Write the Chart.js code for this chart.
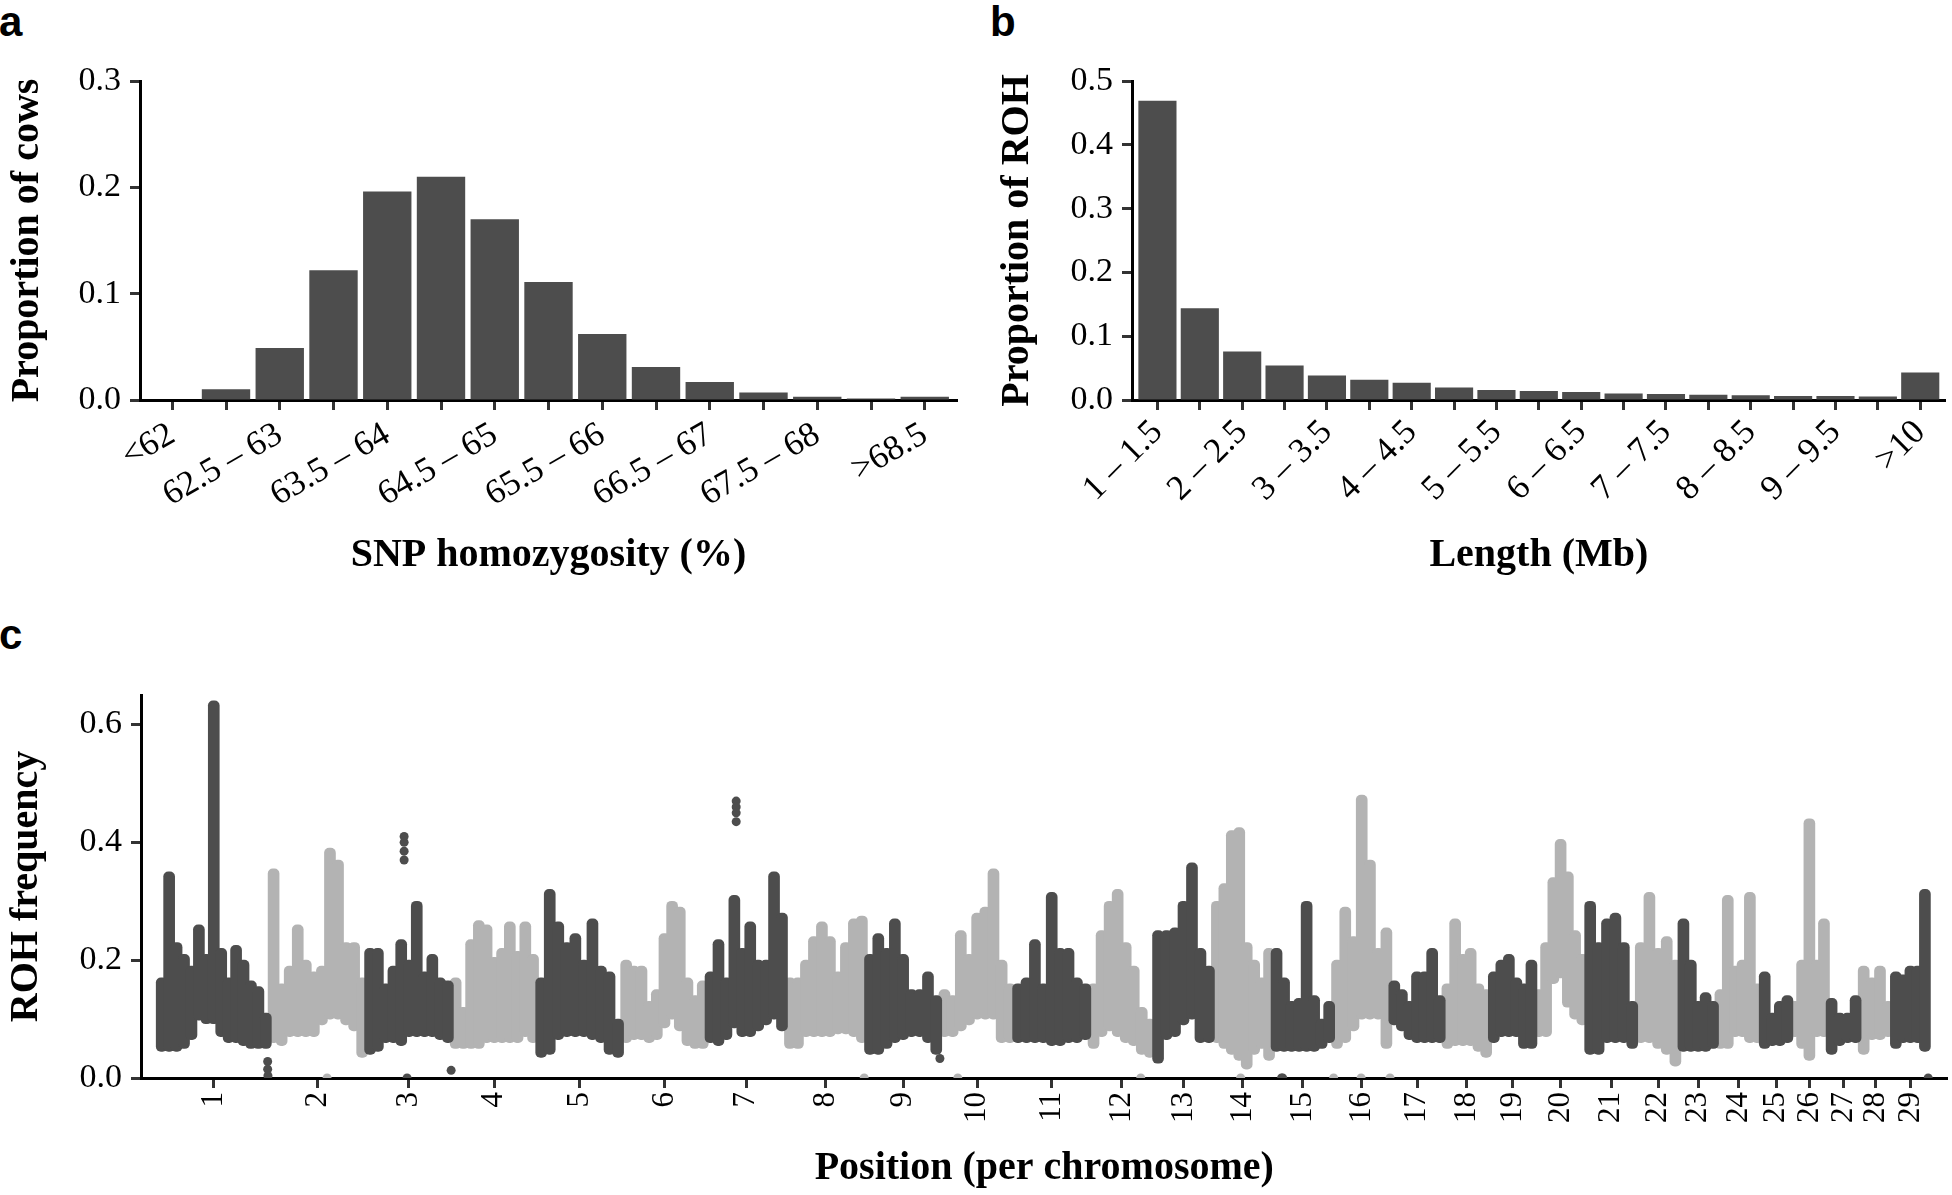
<!DOCTYPE html>
<html>
<head>
<meta charset="utf-8">
<script src="https://cdn.jsdelivr.net/npm/chart.js@4.4.1/dist/chart.umd.min.js"></script>
<style>
  html, body { margin: 0; padding: 0; background: #fff; }
  #page { position: relative; width: 1952px; height: 1195px; overflow: hidden; }
  canvas { position: absolute; }
  .tag { position: absolute; font: bold 42px "Liberation Sans", Arial, sans-serif; line-height: 1; color: #000; }
</style>
</head>
<body>
<div id="page">
  <div class="tag" style="left:-1px; top:1px;">a</div>
  <div class="tag" style="left:990px; top:1px;">b</div>
  <div class="tag" style="left:-1px; top:614px;">c</div>
  <canvas id="chartA" width="975" height="600" style="left:0; top:0;"></canvas>
  <canvas id="chartB" width="977" height="600" style="left:975px; top:0;"></canvas>
  <canvas id="chartC" width="1952" height="595" style="left:0; top:600px;"></canvas>
</div>
<script>
// panel a: SNP homozygosity classes
const homozygosityBins = ['<62', '62 – 62.5', '62.5 – 63', '63 – 63.5', '63.5 – 64', '64 – 64.5', '64.5 – 65',
  '65 – 65.5', '65.5 – 66', '66 – 66.5', '66.5 – 67', '67 – 67.5', '67.5 – 68', '68 – 68.5', '>68.5'];
const propCows = [0, 0.010, 0.049, 0.122, 0.196, 0.210, 0.170, 0.111, 0.062, 0.031, 0.017, 0.007, 0.003, 0.0015, 0.003];

// panel b: ROH length classes (Mb)
const lengthBins = ['1 – 1.5', '1.5 – 2', '2 – 2.5', '2.5 – 3', '3 – 3.5', '3.5 – 4', '4 – 4.5', '4.5 – 5', '5 – 5.5',
  '5.5 – 6', '6 – 6.5', '6.5 – 7', '7 – 7.5', '7.5 – 8', '8 – 8.5', '8.5 – 9', '9 – 9.5', '9.5 – 10', '>10'];
const propRoh = [0.469, 0.144, 0.076, 0.054, 0.0385, 0.0316, 0.027, 0.0195, 0.0158, 0.0142, 0.0126, 0.010,
  0.0095, 0.0084, 0.0074, 0.0063, 0.0063, 0.0053, 0.043];

// panel c: chromosomes, lengths in Mb
const chrNames = ['1','2','3','4','5','6','7','8','9','10','11','12','13','14','15','16','17','18','19','20',
  '21','22','23','24','25','26','27','28','29'];
const chrLengthMb = [158.3, 137.1, 121.4, 120.8, 121.2, 119.5, 112.6, 113.4, 105.7, 104.3, 107.3, 91.2, 84.2,
  84.6, 85.3, 81.7, 75.2, 66.0, 64.1, 72.0, 71.6, 61.4, 52.5, 62.7, 42.9, 51.7, 45.4, 46.3, 51.5];

// ROH frequency range [low, high] in consecutive windows along each chromosome
const rohBins = [
  [[0.045,0.17],[0.045,0.35],[0.045,0.23],[0.05,0.21],[0.065,0.19],[0.098,0.26],[0.092,0.21],[0.092,0.64],
   [0.07,0.22],[0.06,0.17],[0.06,0.225],[0.055,0.2],[0.05,0.165],[0.05,0.155],[0.05,0.11]],
  [[0.06,0.355],[0.055,0.16],[0.07,0.19],[0.07,0.26],[0.07,0.2],[0.07,0.18],[0.09,0.19],[0.1,0.39],
   [0.1,0.37],[0.09,0.23],[0.08,0.23],[0.035,0.17]],
  [[0.04,0.22],[0.045,0.22],[0.06,0.16],[0.06,0.19],[0.055,0.235],[0.07,0.2],[0.07,0.3],[0.07,0.18],
   [0.07,0.21],[0.065,0.17],[0.06,0.165]],
  [[0.05,0.17],[0.05,0.12],[0.05,0.235],[0.05,0.267],[0.06,0.26],[0.06,0.205],[0.06,0.22],[0.06,0.265],
   [0.06,0.215],[0.07,0.265],[0.06,0.21]],
  [[0.035,0.17],[0.04,0.32],[0.065,0.265],[0.07,0.23],[0.07,0.245],[0.07,0.2],[0.065,0.27],[0.06,0.19],
   [0.04,0.18],[0.035,0.1]],
  [[0.06,0.2],[0.065,0.19],[0.065,0.19],[0.06,0.13],[0.065,0.15],[0.085,0.245],[0.1,0.3],[0.08,0.29],
   [0.055,0.17],[0.05,0.14],[0.05,0.165]],
  [[0.06,0.18],[0.055,0.235],[0.065,0.17],[0.085,0.31],[0.07,0.22],[0.07,0.265],[0.08,0.2],[0.09,0.2],
   [0.1,0.35],[0.08,0.28]],
  [[0.05,0.17],[0.05,0.17],[0.07,0.2],[0.07,0.24],[0.07,0.265],[0.07,0.24],[0.075,0.18],[0.075,0.23],
   [0.07,0.27],[0.06,0.275]],
  [[0.04,0.21],[0.04,0.245],[0.05,0.22],[0.06,0.27],[0.065,0.21],[0.07,0.15],[0.07,0.15],[0.06,0.18],[0.04,0.14]],
  [[0.07,0.15],[0.07,0.14],[0.08,0.25],[0.09,0.21],[0.1,0.28],[0.1,0.29],[0.1,0.355],[0.06,0.2],[0.06,0.16]],
  [[0.06,0.16],[0.06,0.17],[0.06,0.235],[0.06,0.16],[0.055,0.315],[0.055,0.22],[0.06,0.22],[0.06,0.17],[0.065,0.16]],
  [[0.05,0.16],[0.07,0.25],[0.08,0.3],[0.07,0.32],[0.06,0.23],[0.055,0.19],[0.04,0.12],[0.035,0.1]],
  [[0.025,0.25],[0.065,0.25],[0.07,0.255],[0.09,0.3],[0.1,0.365],[0.06,0.22],[0.06,0.19]],
  [[0.06,0.3],[0.05,0.33],[0.04,0.42],[0.03,0.425],[0.015,0.23],[0.04,0.2],[0.05,0.17],[0.03,0.22]],
  [[0.045,0.22],[0.045,0.17],[0.045,0.13],[0.045,0.135],[0.045,0.3],[0.045,0.14],[0.05,0.1],[0.06,0.13]],
  [[0.05,0.2],[0.06,0.29],[0.08,0.24],[0.1,0.48],[0.1,0.37],[0.1,0.22],[0.05,0.255]],
  [[0.09,0.165],[0.08,0.15],[0.065,0.13],[0.06,0.18],[0.06,0.18],[0.06,0.22],[0.06,0.14]],
  [[0.05,0.16],[0.055,0.27],[0.055,0.21],[0.055,0.22],[0.045,0.16],[0.035,0.15]],
  [[0.06,0.18],[0.07,0.2],[0.07,0.21],[0.07,0.17],[0.05,0.16],[0.05,0.2]],
  [[0.07,0.15],[0.07,0.23],[0.16,0.34],[0.17,0.405],[0.12,0.35],[0.1,0.25],[0.09,0.21]],
  [[0.04,0.3],[0.04,0.23],[0.06,0.27],[0.06,0.28],[0.06,0.23],[0.05,0.13]],
  [[0.06,0.23],[0.06,0.315],[0.05,0.22],[0.04,0.24],[0.02,0.2]],
  [[0.045,0.27],[0.045,0.2],[0.045,0.13],[0.045,0.145],[0.05,0.13]],
  [[0.05,0.15],[0.05,0.31],[0.07,0.19],[0.07,0.2],[0.06,0.315],[0.06,0.16]],
  [[0.05,0.18],[0.055,0.11],[0.055,0.13],[0.06,0.14]],
  [[0.07,0.13],[0.05,0.2],[0.03,0.44],[0.07,0.2],[0.07,0.27]],
  [[0.04,0.135],[0.055,0.11],[0.06,0.11],[0.06,0.14]],
  [[0.04,0.19],[0.065,0.17],[0.065,0.19],[0.07,0.13]],
  [[0.05,0.18],[0.06,0.175],[0.06,0.19],[0.06,0.19],[0.045,0.32]]
];

// single SNPs away from the bulk: [chromosome, position Mb, frequency]
const rohOutliers = [
  [1, 155.6, 0.028], [1, 155.6, 0.015], [1, 156.0, 0.004],
  [2, 81.6, 0.0],
  [3, 58, 0.0], [3, 53.8, 0.37], [3, 53.8, 0.385], [3, 53.8, 0.40], [3, 53.8, 0.41], [3, 120.5, 0.013],
  [7, 42, 0.47], [7, 42, 0.46], [7, 42, 0.45], [7, 42, 0.435],
  [8, 111, 0.0], [9, 105, 0.033], [10, 24.7, 0.0], [12, 72.7, 0.0], [14, 39, 0.0],
  [15, 12.4, 0.0], [15, 14, 0.0], [16, 1, 0.0], [16, 40, 0.0], [16, 81, 0.0], [29, 51, 0.0]
];

const DARK = '#4d4d4d';
const LIGHT = '#b3b3b3';
const TICK = '#333333';
const SERIF = '"Liberation Serif", "Times New Roman", serif';

Chart.defaults.font.family = SERIF;
Chart.defaults.color = '#000';

function axisTitle(text, padding) {
    return { display: true, text: text, color: '#000', padding: padding, font: { family: SERIF, size: 40, weight: 'bold' } };
}

function histogramPanel(id, labels, values, o) {
    return new Chart(document.getElementById(id), {
        type: 'bar',
        data: {
            datasets: [{
                data: values.map((v, i) => ({ x: i + 1, y: v })),
                backgroundColor: DARK,
                borderWidth: 0,
                barPercentage: 0.9,
                categoryPercentage: 1
            }]
        },
        options: {
            responsive: false,
            animation: false,
            layout: { padding: o.pad },
            plugins: { legend: { display: false }, tooltip: { enabled: false } },
            scales: {
                x: {
                    type: 'linear', min: 0.4, max: labels.length + 0.6, offset: false,
                    afterBuildTicks: s => { s.ticks = labels.map((_, i) => ({ value: i + 1 })); },
                    afterFit: s => { s.height = o.xHeight; },
                    grid: { display: true, offset: false, drawOnChartArea: false, tickLength: 10, tickWidth: 3, tickColor: TICK },
                    border: { display: true, color: '#000', width: 3 },
                    ticks: {
                        autoSkip: false, minRotation: o.rot, maxRotation: o.rot, padding: o.xPad, color: '#000',
                        font: { size: 35 },
                        callback: (v, i) => (i % 2 === 0 ? labels[i] : '')
                    },
                    title: axisTitle(o.xTitle, { top: 0, bottom: 0 })
                },
                y: {
                    min: 0, max: o.yMax,
                    afterFit: s => { s.width = o.yWidth; },
                    grid: { display: true, drawOnChartArea: false, tickLength: 10, tickWidth: 3, tickColor: TICK },
                    border: { display: true, color: '#000', width: 3 },
                    ticks: { stepSize: 0.1, includeBounds: false, padding: 9, color: '#000', font: { size: 34 },
                        callback: v => v.toFixed(1) },
                    title: axisTitle(o.yTitle, { top: o.yTitlePad, bottom: 0 })
                }
            }
        }
    });
}

histogramPanel('chartA', homozygosityBins, propCows, {
    pad: { left: 0, top: 81, right: 18, bottom: 20 },
    xHeight: 180, yWidth: 140, rot: 30, xPad: 4, yMax: 0.3, yTitlePad: 4,
    xTitle: 'SNP homozygosity (%)', yTitle: 'Proportion of cows'
});

histogramPanel('chartB', lengthBins, propRoh, {
    pad: { left: 0, top: 81, right: 2, bottom: 20 },
    xHeight: 180, yWidth: 157, rot: 45, xPad: 2, yMax: 0.5, yTitlePad: 19,
    xTitle: 'Length (Mb)', yTitle: 'Proportion of ROH'
});

// panel c: genome-wide ROH frequency
const chrStart = [];
let total = 0;
chrLengthMb.forEach(L => { chrStart.push(total); total += L; });
const chrMid = chrLengthMb.map((L, c) => chrStart[c] + L / 2);

const darkBars = [], lightBars = [], darkDots = [], lightDots = [];
rohBins.forEach((bins, c) => {
    const step = chrLengthMb[c] / bins.length;
    bins.forEach((b, i) => {
        const pt = { x: chrStart[c] + (i + 0.5) * step, y: b };
        (c % 2 === 0 ? darkBars : lightBars).push(pt);
    });
});
rohOutliers.forEach(([chr, pos, f]) => {
    const pt = { x: chrStart[chr - 1] + pos, y: f };
    ((chr - 1) % 2 === 0 ? darkDots : lightDots).push(pt);
});

function bandSet(data, color) {
    return { type: 'bar', data: data, backgroundColor: color, borderWidth: 0, barThickness: 11,
        borderRadius: 5, borderSkipped: false, grouped: false };
}
function dotSet(data, color) {
    return { type: 'scatter', data: data, pointRadius: 4.5, pointBackgroundColor: color,
        pointBorderWidth: 0, backgroundColor: color, clip: 0 };
}

new Chart(document.getElementById('chartC'), {
    type: 'bar',
    data: {
        datasets: [bandSet(darkBars, DARK), bandSet(lightBars, LIGHT), dotSet(darkDots, DARK), dotSet(lightDots, LIGHT)]
    },
    options: {
        responsive: false,
        animation: false,
        layout: { padding: { left: 0, top: 95, right: 2, bottom: 2 } },
        plugins: { legend: { display: false }, tooltip: { enabled: false } },
        scales: {
            x: {
                type: 'linear', min: -24.1, max: 2538.8, offset: false,
                afterBuildTicks: s => { s.ticks = chrMid.map(v => ({ value: v })); },
                afterFit: s => { s.height = 115; },
                grid: { display: true, offset: false, drawOnChartArea: false, tickLength: 10, tickWidth: 3, tickColor: TICK },
                border: { display: true, color: '#000', width: 3 },
                ticks: { autoSkip: false, minRotation: 90, maxRotation: 90, padding: 4, color: '#000',
                    font: { size: 31 }, callback: (v, i) => chrNames[i] },
                title: axisTitle('Position (per chromosome)', { top: 0, bottom: 0 })
            },
            y: {
                min: 0, max: 0.65,
                afterFit: s => { s.width = 141; },
                grid: { display: true, drawOnChartArea: false, tickLength: 10, tickWidth: 3, tickColor: TICK },
                border: { display: true, color: '#000', width: 3 },
                ticks: { stepSize: 0.2, includeBounds: false, padding: 9, color: '#000', font: { size: 34 },
                    callback: v => v.toFixed(1) },
                title: axisTitle('ROH frequency', { top: 3, bottom: 0 })
            }
        }
    }
});
</script>
</body>
</html>
